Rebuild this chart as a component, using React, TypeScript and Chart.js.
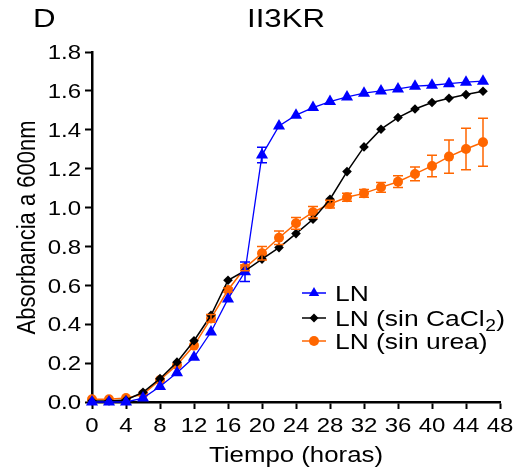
import React, { useEffect, useRef } from 'react';
import { Chart, registerables } from 'chart.js';

Chart.register(...registerables);

// ---------- data ----------
const hours = [0, 2, 4, 6, 8, 10, 12, 14, 16, 18, 20, 22, 24, 26, 28, 30, 32, 34, 36, 38, 40, 42, 44, 46];

const lnValues = [0.0, 0.0, 0.0, 0.02, 0.08, 0.15, 0.23, 0.36, 0.53, 0.67, 1.27, 1.42, 1.475, 1.514, 1.545, 1.569, 1.588, 1.6, 1.61, 1.624, 1.629, 1.637, 1.645, 1.65];
const lnErrors = [0, 0, 0, 0, 0, 0, 0, 0, 0, 0.05, 0.04, 0, 0, 0, 0, 0, 0, 0, 0, 0, 0, 0, 0, 0];

const sinCaCl2Values = [0.005, 0.005, 0.01, 0.05, 0.12, 0.205, 0.315, 0.446, 0.626, 0.675, 0.735, 0.794, 0.866, 0.94, 1.043, 1.185, 1.312, 1.403, 1.463, 1.507, 1.54, 1.562, 1.581, 1.598];

const sinUreaValues = [0.014, 0.014, 0.02, 0.04, 0.113, 0.19, 0.29, 0.43, 0.576, 0.69, 0.765, 0.845, 0.919, 0.976, 1.018, 1.053, 1.073, 1.104, 1.133, 1.173, 1.214, 1.262, 1.301, 1.336];
const sinUreaErrors = [0, 0, 0, 0, 0, 0, 0, 0.02, 0.01, 0.015, 0.035, 0.035, 0.03, 0.03, 0.02, 0.02, 0.02, 0.025, 0.03, 0.035, 0.055, 0.085, 0.107, 0.123];

const xTicks = [0, 4, 8, 12, 16, 20, 24, 28, 32, 36, 40, 44, 48];
const yTicks = [0, 0.2, 0.4, 0.6, 0.8, 1.0, 1.2, 1.4, 1.6, 1.8];
const yTickLabels = ['0.0', '0.2', '0.4', '0.6', '0.8', '1.0', '1.2', '1.4', '1.6', '1.8'];

const panelLabel = 'D';
const chartTitle = 'II3KR';
const xTitle = 'Tiempo (horas)';
const yTitle = 'Absorbancia a 600nm';
const seriesNames = ['LN', 'LN (sin CaCl', 'LN (sin urea)'];
const seriesSub = ['', '2', ''];
const seriesAfter = ['', ')', ''];

// ---------- styles ----------
const BLUE = '#0000FF';
const BLACK = '#000000';
const ORANGE = '#FF6600';
const FONT = '"Liberation Sans", Arial, sans-serif';
const SX = 1.2;

function drawMarker(ctx: CanvasRenderingContext2D, style: string, x: number, y: number, r: number, color: string) {
  ctx.save();
  ctx.fillStyle = color;
  ctx.beginPath();
  if (style === 'triangle') {
    const h = r * 1.5;
    const w = r * 1.732;
    ctx.moveTo(x, y - h / 2 - r * 0.25);
    ctx.lineTo(x + w / 2, y + h / 2 - r * 0.25);
    ctx.lineTo(x - w / 2, y + h / 2 - r * 0.25);
  } else if (style === 'rectRot') {
    ctx.moveTo(x, y - r);
    ctx.lineTo(x + r, y);
    ctx.lineTo(x, y + r);
    ctx.lineTo(x - r, y);
  } else {
    ctx.arc(x, y, r, 0, Math.PI * 2);
  }
  ctx.closePath();
  ctx.fill();
  ctx.restore();
}

function stretchedText(ctx: CanvasRenderingContext2D, text: string, x: number, y: number, align: CanvasTextAlign, font: string) {
  ctx.save();
  ctx.translate(x, y);
  ctx.scale(SX, 1);
  ctx.font = font;
  ctx.textAlign = align;
  ctx.textBaseline = 'alphabetic';
  ctx.fillStyle = '#000';
  ctx.fillText(text, 0, 0);
  ctx.restore();
}

const errorBarPlugin = {
  id: 'errorBars',
  afterDatasetsDraw(chart: any) {
    const ctx: CanvasRenderingContext2D = chart.ctx;
    const xs = chart.scales.x;
    const ys = chart.scales.y;
    chart.data.datasets.forEach((ds: any) => {
      const errs: number[] | undefined = ds.errors;
      if (!errs) return;
      ctx.save();
      ctx.strokeStyle = ds.borderColor;
      ctx.lineWidth = 1.5;
      ds.data.forEach((pt: { x: number; y: number }, i: number) => {
        const e = errs[i];
        if (!e) return;
        const px = xs.getPixelForValue(pt.x);
        const top = ys.getPixelForValue(pt.y + e);
        const bot = ys.getPixelForValue(pt.y - e);
        ctx.beginPath();
        ctx.moveTo(px, top);
        ctx.lineTo(px, bot);
        ctx.moveTo(px - 5, top);
        ctx.lineTo(px + 5, top);
        ctx.moveTo(px - 5, bot);
        ctx.lineTo(px + 5, bot);
        ctx.stroke();
      });
      ctx.restore();
    });
  },
};

const textPlugin = {
  id: 'texts',
  afterDraw(chart: any) {
    const ctx: CanvasRenderingContext2D = chart.ctx;
    const xs = chart.scales.x;
    const ys = chart.scales.y;
    const tickFont = `20px ${FONT}`;
    // y tick labels
    yTicks.forEach((v, i) => {
      const py = ys.getPixelForValue(v);
      stretchedText(ctx, yTickLabels[i], 81, py + 7.2, 'right', tickFont);
    });
    // x tick labels
    xTicks.forEach((v) => {
      const px = xs.getPixelForValue(v);
      stretchedText(ctx, String(v), px, 432, 'center', tickFont);
    });
    // axis titles
    stretchedText(ctx, xTitle, (xs.left + xs.right) / 2, 462, 'center', `21.5px ${FONT}`);
    ctx.save();
    ctx.translate(35, (ys.top + ys.bottom) / 2 + 0.5);
    ctx.scale(SX, 1);
    ctx.rotate(-Math.PI / 2);
    ctx.font = `22px ${FONT}`;
    ctx.textAlign = 'center';
    ctx.textBaseline = 'alphabetic';
    ctx.fillStyle = '#000';
    ctx.fillText(yTitle, 0, 0);
    ctx.restore();
    // title and panel label
    stretchedText(ctx, chartTitle, 286, 27, 'center', `26px ${FONT}`);
    stretchedText(ctx, panelLabel, 33, 27, 'left', `26px ${FONT}`);
    // legend
    const rows = [293, 318, 341];
    const styles = ['triangle', 'rectRot', 'circle'];
    const colors = [BLUE, BLACK, ORANGE];
    const radii = [6, 4.5, 5];
    const legFont = `22px ${FONT}`;
    rows.forEach((cy, i) => {
      ctx.save();
      ctx.strokeStyle = colors[i];
      ctx.lineWidth = 1.5;
      ctx.beginPath();
      ctx.moveTo(302, cy);
      ctx.lineTo(326, cy);
      ctx.stroke();
      ctx.restore();
      drawMarker(ctx, styles[i], 314, cy, radii[i], colors[i]);
      const base = cy + 7.5;
      stretchedText(ctx, seriesNames[i], 335, base, 'left', legFont);
      if (seriesSub[i]) {
        ctx.save();
        ctx.font = legFont;
        const w1 = ctx.measureText(seriesNames[i]).width * SX;
        const subFont = `16px ${FONT}`;
        ctx.font = subFont;
        const w2 = ctx.measureText(seriesSub[i]).width * SX;
        ctx.restore();
        stretchedText(ctx, seriesSub[i], 335 + w1 + 0.5, base + 5, 'left', subFont);
        stretchedText(ctx, seriesAfter[i], 335 + w1 + w2 + 1, base, 'left', legFont);
      }
    });
  },
};

export default function App() {
  const canvasRef = useRef<HTMLCanvasElement | null>(null);

  useEffect(() => {
    if (!canvasRef.current) return;
    const chart = new Chart(canvasRef.current, {
      type: 'line',
      data: {
        datasets: [
          {
            label: 'LN',
            data: lnValues.map((v, i) => ({ x: hours[i], y: v })),
            errors: lnErrors,
            borderColor: BLUE,
            backgroundColor: BLUE,
            borderWidth: 1.3,
            pointStyle: 'triangle',
            pointRadius: 7,
            pointBorderWidth: 0,
            clip: false,
          } as any,
          {
            label: 'LN (sin CaCl₂)',
            data: sinCaCl2Values.map((v, i) => ({ x: hours[i], y: v })),
            borderColor: BLACK,
            backgroundColor: BLACK,
            borderWidth: 1.5,
            pointStyle: 'rectRot',
            pointRadius: 4.8,
            pointBorderWidth: 0,
            clip: false,
          } as any,
          {
            label: 'LN (sin urea)',
            data: sinUreaValues.map((v, i) => ({ x: hours[i], y: v })),
            errors: sinUreaErrors,
            borderColor: ORANGE,
            backgroundColor: ORANGE,
            borderWidth: 1.5,
            pointStyle: 'circle',
            pointRadius: 5,
            pointBorderWidth: 0,
            clip: false,
          } as any,
        ],
      },
      options: {
        responsive: false,
        animation: false,
        devicePixelRatio: 1,
        layout: { padding: { left: 85, right: 21, top: 52, bottom: 65 } },
        plugins: {
          legend: { display: false },
          title: { display: false },
          tooltip: { enabled: false },
        },
        scales: {
          x: {
            type: 'linear',
            min: 0,
            max: 48,
            afterBuildTicks: (axis: any) => {
              axis.ticks = xTicks.map((v) => ({ value: v }));
            },
            ticks: { display: false },
            grid: {
              display: true,
              drawOnChartArea: false,
              drawTicks: true,
              tickLength: 7,
              tickWidth: 2,
              tickColor: '#000',
            },
            border: { display: true, color: '#000', width: 2.5 },
          },
          y: {
            type: 'linear',
            min: 0,
            max: 1.8,
            afterBuildTicks: (axis: any) => {
              axis.ticks = yTicks.map((v) => ({ value: v }));
            },
            ticks: { display: false },
            grid: {
              display: true,
              drawOnChartArea: false,
              drawTicks: true,
              tickLength: 7,
              tickWidth: 2,
              tickColor: '#000',
            },
            border: { display: true, color: '#000', width: 2.5 },
          },
        },
      } as any,
      plugins: [errorBarPlugin, textPlugin],
    });
    return () => chart.destroy();
  }, []);

  return (
    <div style={{ position: 'absolute', left: 0, top: 0, width: 521, height: 474, background: '#fff' }}>
      <canvas ref={canvasRef} width={521} height={474} style={{ width: 521, height: 474, display: 'block' }} />
    </div>
  );
}
